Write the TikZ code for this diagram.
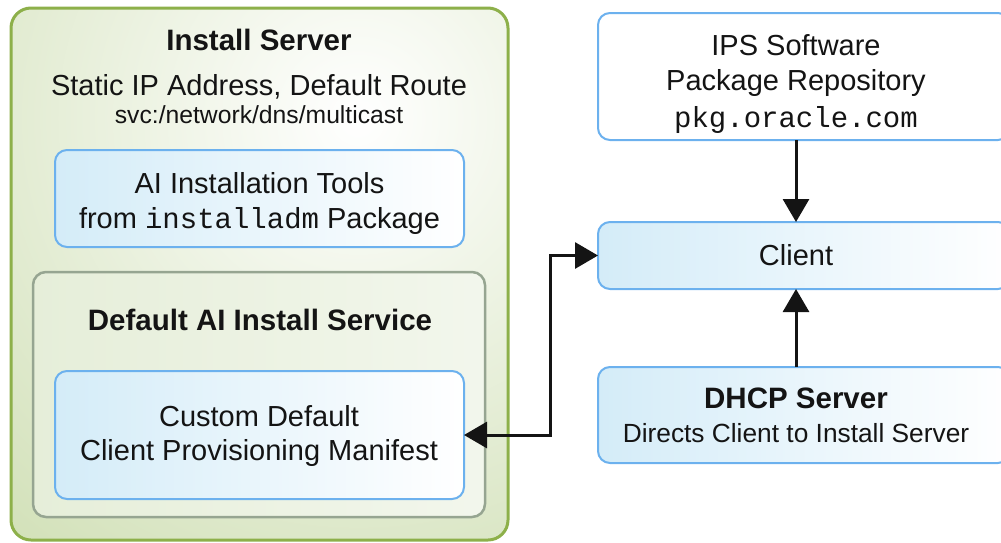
\documentclass[tikz,border=0pt]{standalone}
\usepackage{fontspec}
\setmainfont{Liberation Sans}
\setmonofont{Liberation Mono}
\usetikzlibrary{arrows.meta,calc}

\definecolor{ink}{RGB}{20,20,20}
\definecolor{greenline}{RGB}{141,176,74}
\definecolor{greenfill}{RGB}{206,222,178}
\definecolor{grayline}{RGB}{150,165,145}
\definecolor{svcfill}{RGB}{234,241,224}
\definecolor{blueline}{RGB}{108,177,238}
\definecolor{bluefill}{RGB}{212,236,248}

\begin{document}
\begin{tikzpicture}[x=1pt,y=-1pt,
  boxbase/.style={rectangle, inner sep=0pt, outer sep=0pt},
  serverbox/.style={boxbase, draw=greenline, line width=3pt, rounded corners=20pt,
    path picture={\shade[inner color=white, outer color=greenfill]
      ($(path picture bounding box.north east)+(-150pt,-110pt)$) circle (600pt);}},
  svcbox/.style={boxbase, draw=grayline, line width=2.5pt, rounded corners=13pt,
    left color=svcfill!85!greenfill, right color=svcfill!60!white},
  bluebox/.style={boxbase, draw=blueline, line width=2pt, rounded corners=12pt,
    left color=bluefill, right color=white},
  plainbox/.style={boxbase, draw=blueline, line width=2pt, rounded corners=12pt, fill=white},
  lbl/.style={anchor=base, text=ink, inner sep=0pt, font=\fontsize{29}{35}\selectfont},
  small/.style={lbl, font=\fontsize{24.7}{30}\selectfont},
  sub/.style={lbl, font=\fontsize{26.3}{32}\selectfont},
  head/.style={lbl, font=\fontsize{29.5}{35}\selectfont\bfseries},
  arr/.style={-{Triangle[length=23pt,width=26pt]}, line width=3pt, draw=ink},
  darr/.style={{Triangle[length=23pt,width=26pt]}-{Triangle[length=23pt,width=26pt]}, line width=3pt, draw=ink}]

\useasboundingbox (0,0) rectangle (1001,542);
\clip (0,0) rectangle (1001,542);

% ---- install server ----
\node[serverbox, minimum width=497pt, minimum height=532pt] (server) at (259.5,274) {};
\node[head] (servertitle) at (259,50) {Install Server};
\node[lbl] (serverip) at (259,95) {Static IP Address, Default Route};
\node[small] (serversvc) at (259,123) {svc:/network/dns/multicast};

\node[bluebox, minimum width=409pt, minimum height=97pt] (tools) at (259.5,198.5) {};
\node[lbl] (tools1) at (259.5,193) {AI Installation Tools};
\node[lbl] (tools2) at (259.5,228) {from \texttt{installadm} Package};

\node[svcbox, minimum width=452pt, minimum height=245pt] (service) at (259,394.5) {};
\node[head] (servicetitle) at (260,330) {Default AI Install Service};

\node[bluebox, minimum width=409pt, minimum height=128pt] (custom) at (259.5,435) {};
\node[lbl] (custom1) at (259,426) {Custom Default};
\node[lbl] (custom2) at (259,460) {Client Provisioning Manifest};

% ---- right column ----
\node[plainbox, minimum width=412pt, minimum height=127pt] (ips) at (804,76.5) {};
\node[lbl] (ips1) at (796,55) {IPS Software};
\node[lbl] (ips2) at (796,90) {Package Repository};
\node[lbl] (ips3) at (796,127) {\texttt{pkg.oracle.com}};

\node[bluebox, minimum width=412pt, minimum height=67pt] (client) at (804,255.5) {};
\node[lbl] (clientlbl) at (796,265) {Client};

\node[bluebox, minimum width=412pt, minimum height=96pt] (dhcp) at (804,415) {};
\node[head] (dhcp1) at (796,408) {DHCP Server};
\node[sub] (dhcp2) at (796,442) {Directs Client to Install Server};

% ---- connectors ----
\draw[arr] (ips.south -| clientlbl) -- (client.north -| clientlbl);
\draw[arr] (dhcp.north -| clientlbl) -- (client.south -| clientlbl);
\draw[darr] (custom.east) -- ++(86,0) |- (client.west);
\end{tikzpicture}
\end{document}
